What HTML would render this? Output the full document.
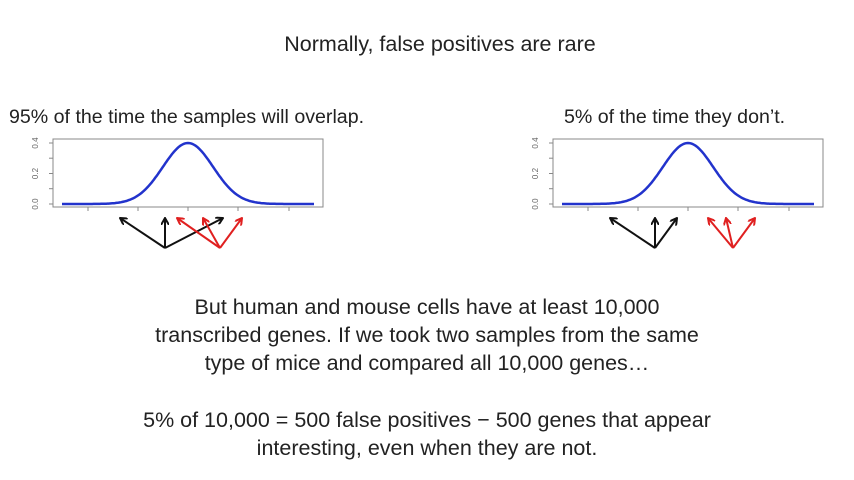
<!DOCTYPE html>
<html><head><meta charset="utf-8"><style>
body{margin:0;width:854px;height:480px;background:#fff;overflow:hidden;font-family:"Liberation Sans",sans-serif;color:#222}
.t{position:absolute;white-space:nowrap;font-size:21.5px}
.c{left:0;width:854px;text-align:center}
</style></head><body>
<div class="t c" style="top:32px;left:13px;font-size:21.5px">Normally, false positives are rare</div>
<div class="t" style="left:9px;top:106px;font-size:19.6px">95% of the time the samples will overlap.</div>
<div class="t" style="left:564px;top:106px;font-size:19.6px">5% of the time they don’t.</div>
<div class="t c" style="top:293px;line-height:28px">But human and mouse cells have at least 10,000<br>transcribed genes. If we took two samples from the same<br>type of mice and compared all 10,000 genes…</div>
<div class="t c" style="top:406px;line-height:28px">5% of 10,000 = 500 false positives − 500 genes that appear<br>interesting, even when they are not.</div>
<svg id="s" width="854" height="480" style="position:absolute;left:0;top:0">
<defs>
<marker id="ab" markerWidth="8" markerHeight="8" refX="7" refY="4" orient="auto" markerUnits="userSpaceOnUse"><path d="M0,0 L7,4 L0,8" fill="none" stroke="#111" stroke-width="2"/></marker>
<marker id="ar" markerWidth="8" markerHeight="8" refX="7" refY="4" orient="auto" markerUnits="userSpaceOnUse"><path d="M0,0 L7,4 L0,8" fill="none" stroke="#e02020" stroke-width="2"/></marker>
</defs>
</svg>
<script>
var s=document.getElementById('s'),ns='http://www.w3.org/2000/svg';
function el(t,a){var e=document.createElementNS(ns,t);for(var k in a)e.setAttribute(k,a[k]);s.appendChild(e);return e}
function chart(ox){
 el('rect',{x:ox+53,y:139,width:270,height:68,fill:'none',stroke:'#888','stroke-width':1});
 var d='';for(var i=0;i<=200;i++){var u=-5+i*0.05;var x=ox+188+u*25.2;var y=204-61*Math.exp(-u*u/2);d+=(i?'L':'M')+x.toFixed(1)+','+y.toFixed(1)}
 el('path',{d:d,fill:'none',stroke:'#2233cc','stroke-width':2.5});
 [88,138,188,238,289].forEach(function(x){el('line',{x1:ox+x,y1:207,x2:ox+x,y2:211,stroke:'#888'})});
 [[204,'0.0'],[173.5,'0.2'],[143,'0.4']].forEach(function(p){
  el('line',{x1:ox+49,y1:p[0],x2:ox+53,y2:p[0],stroke:'#888'});
  var t=el('text',{x:0,y:0,'font-size':8,fill:'#666','text-anchor':'middle',transform:'translate('+(ox+38)+','+p[0]+') rotate(-90)'});t.textContent=p[1];});
 el('line',{x1:ox+49,y1:188.7,x2:ox+53,y2:188.7,stroke:'#888'});
 el('line',{x1:ox+49,y1:158.2,x2:ox+53,y2:158.2,stroke:'#888'});
}
function arrows(o,tips,c,m){tips.forEach(function(t){el('line',{x1:o[0],y1:o[1],x2:t[0],y2:t[1],stroke:c,'stroke-width':2,'marker-end':'url(#'+m+')'})})}
chart(0);chart(500);
arrows([165,248],[[120,218],[165,218],[223,218]],'#111','ab');
arrows([220,248],[[177,218],[203,218],[242,218]],'#e02020','ar');
arrows([655,248],[[610,218],[655,218],[677,218]],'#111','ab');
arrows([733,248],[[708,218],[726,218],[755,218]],'#e02020','ar');
</script>
</body></html>
